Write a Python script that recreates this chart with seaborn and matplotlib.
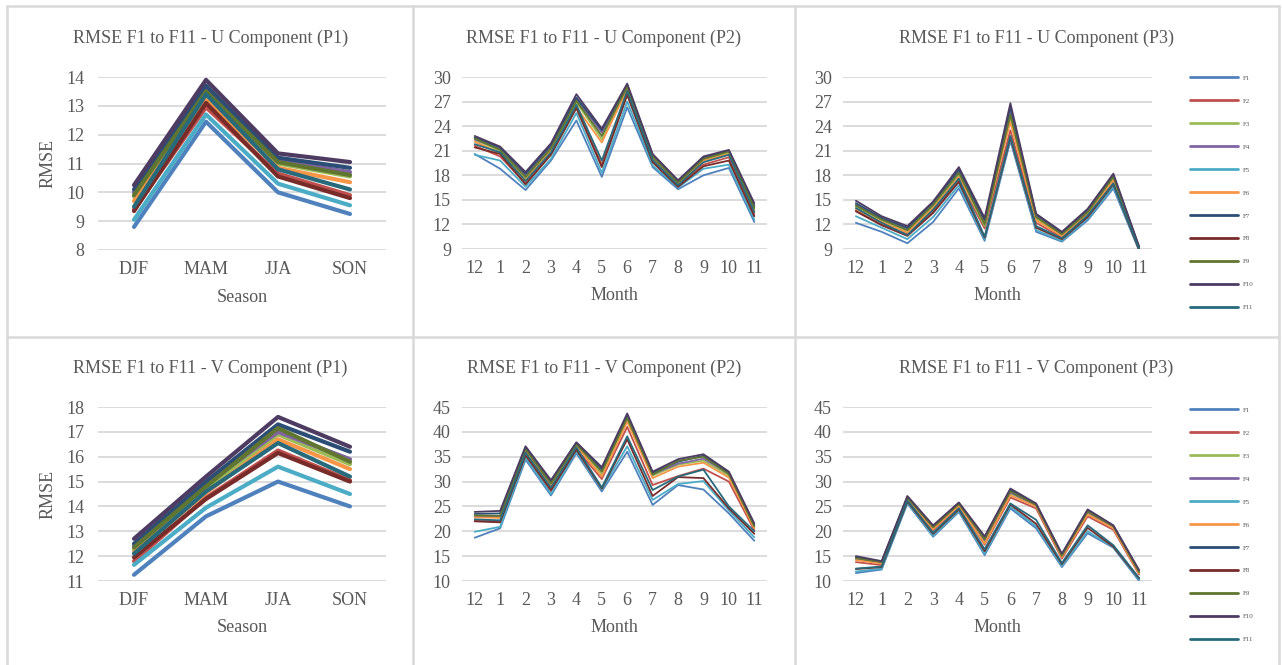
import numpy as np
import pandas as pd
import matplotlib
matplotlib.use("Agg")
import matplotlib.pyplot as plt
from matplotlib.lines import Line2D
import seaborn as sns

sns.set_style("white")
plt.rcParams['font.family'] = ['Liberation Serif', 'DejaVu Serif']

series = ["F1", "F2", "F3", "F4", "F5", "F6", "F7", "F8", "F9", "F10", "F11"]
colors = ["#4F81BD", "#C0504D", "#9BBB59", "#8064A2", "#4BACC6", "#F79646",
          "#2C4D75", "#772C2A", "#5F7530", "#4D3B62", "#276A7C"]
seasons = ["DJF", "MAM", "JJA", "SON"]
months = ["12", "1", "2", "3", "4", "5", "6", "7", "8", "9", "10", "11"]

# ---- U component, P1 (seasonal) ----
u_p1 = {
    "F1":  [8.80, 12.45, 10.00, 9.25],
    "F2":  [9.40, 12.95, 10.65, 9.90],
    "F3":  [9.85, 13.45, 11.00, 10.55],
    "F4":  [10.00, 13.60, 11.10, 10.70],
    "F5":  [9.05, 12.70, 10.30, 9.55],
    "F6":  [9.70, 13.20, 10.85, 10.35],
    "F7":  [10.10, 13.70, 11.20, 10.85],
    "F8":  [9.35, 13.10, 10.55, 9.80],
    "F9":  [9.90, 13.50, 11.05, 10.60],
    "F10": [10.25, 13.90, 11.35, 11.05],
    "F11": [9.50, 13.40, 10.80, 10.10],
}
# ---- U component, P2 (monthly) ----
u_p2 = {
    "F1":  [20.6, 18.8, 16.2, 19.8, 24.7, 17.8, 26.3, 19.0, 16.3, 18.0, 18.9, 12.3],
    "F2":  [21.6, 20.3, 17.0, 20.6, 26.4, 19.3, 28.0, 19.7, 16.7, 19.3, 20.2, 13.2],
    "F3":  [22.3, 21.0, 17.6, 21.2, 26.9, 22.4, 28.6, 20.2, 17.0, 19.9, 20.8, 13.8],
    "F4":  [22.4, 21.2, 18.0, 21.5, 27.3, 23.2, 28.9, 20.4, 17.2, 20.1, 21.0, 14.1],
    "F5":  [20.5, 19.8, 16.6, 20.0, 25.6, 18.3, 27.0, 19.2, 16.5, 18.8, 19.3, 12.6],
    "F6":  [22.1, 20.7, 17.4, 21.0, 26.3, 22.0, 28.5, 20.0, 16.9, 19.8, 20.6, 13.6],
    "F7":  [22.6, 21.4, 18.2, 21.7, 27.5, 23.5, 29.0, 20.5, 17.3, 20.2, 21.0, 14.3],
    "F8":  [21.4, 20.6, 16.9, 20.5, 26.2, 19.0, 27.8, 19.6, 16.6, 19.1, 19.8, 13.0],
    "F9":  [22.5, 21.1, 17.8, 21.3, 27.1, 22.8, 28.8, 20.3, 17.1, 20.0, 20.9, 14.0],
    "F10": [22.8, 21.5, 18.4, 21.9, 27.9, 23.7, 29.2, 20.6, 17.4, 20.3, 21.1, 14.6],
    "F11": [21.8, 20.8, 17.3, 20.8, 26.6, 19.8, 28.3, 19.9, 16.8, 19.6, 20.5, 13.5],
}
# ---- U component, P3 (monthly) ----
u_p3 = {
    "F1":  [12.2, 11.1, 9.7, 12.3, 16.4, 10.0, 22.2, 11.1, 9.9, 12.5, 16.4, 8.8],
    "F2":  [13.7, 12.0, 10.8, 13.6, 17.4, 11.5, 23.5, 12.2, 10.4, 13.0, 17.1, 9.0],
    "F3":  [14.2, 12.5, 11.2, 14.2, 18.0, 11.8, 25.0, 12.7, 10.7, 13.4, 17.6, 9.1],
    "F4":  [14.4, 12.7, 11.5, 14.5, 18.5, 12.3, 25.7, 13.0, 10.9, 13.6, 17.9, 9.2],
    "F5":  [13.0, 11.6, 10.2, 12.9, 16.8, 10.2, 22.4, 11.3, 10.0, 12.7, 16.6, 8.9],
    "F6":  [13.9, 12.3, 11.0, 14.0, 17.8, 12.2, 24.5, 12.5, 10.6, 13.3, 17.4, 9.0],
    "F7":  [14.6, 12.8, 11.6, 14.7, 18.7, 12.5, 26.3, 13.2, 11.0, 13.8, 18.0, 9.2],
    "F8":  [13.6, 11.9, 10.6, 13.4, 17.2, 10.4, 22.6, 11.6, 10.2, 12.9, 16.9, 8.9],
    "F9":  [14.3, 12.6, 11.3, 14.4, 18.3, 12.0, 25.4, 12.9, 10.8, 13.5, 17.8, 9.1],
    "F10": [14.9, 13.0, 11.8, 14.8, 19.0, 12.8, 26.8, 13.3, 11.1, 13.9, 18.2, 9.3],
    "F11": [14.0, 12.2, 10.7, 13.8, 17.6, 10.5, 22.8, 11.8, 10.3, 13.1, 17.0, 9.0],
}
# ---- V component, P1 (seasonal) ----
v_p1 = {
    "F1":  [11.25, 13.60, 15.00, 14.00],
    "F2":  [11.80, 14.35, 16.25, 15.05],
    "F3":  [12.25, 14.70, 16.90, 15.70],
    "F4":  [12.40, 14.90, 17.00, 15.90],
    "F5":  [11.65, 13.95, 15.60, 14.50],
    "F6":  [12.15, 14.55, 16.70, 15.50],
    "F7":  [12.50, 15.00, 17.30, 16.20],
    "F8":  [11.95, 14.30, 16.15, 15.00],
    "F9":  [12.35, 14.80, 17.15, 15.80],
    "F10": [12.70, 15.20, 17.60, 16.40],
    "F11": [12.10, 14.60, 16.55, 15.20],
}
# ---- V component, P2 (monthly) ----
v_p2 = {
    "F1":  [18.7, 20.6, 34.4, 27.2, 35.7, 28.0, 36.0, 25.3, 29.3, 28.4, 23.6, 18.1],
    "F2":  [22.2, 22.0, 35.0, 28.0, 36.6, 30.5, 41.0, 29.3, 31.1, 32.6, 30.0, 20.2],
    "F3":  [22.9, 22.9, 36.3, 29.3, 37.3, 31.5, 42.5, 31.2, 33.4, 34.2, 31.2, 20.8],
    "F4":  [23.1, 23.0, 36.6, 29.5, 37.6, 32.2, 43.0, 31.5, 33.6, 34.6, 31.6, 21.1],
    "F5":  [19.9, 20.9, 34.8, 27.5, 36.0, 28.4, 37.1, 26.3, 29.5, 30.1, 24.2, 18.8],
    "F6":  [22.8, 22.7, 36.0, 29.0, 37.2, 31.0, 42.0, 30.7, 33.0, 33.8, 30.8, 20.6],
    "F7":  [23.5, 23.6, 36.9, 30.0, 37.8, 32.6, 43.3, 31.8, 34.0, 35.2, 31.8, 21.3],
    "F8":  [22.0, 21.8, 35.3, 28.3, 36.4, 28.6, 38.5, 27.1, 30.9, 30.7, 24.6, 19.5],
    "F9":  [23.2, 23.1, 36.5, 29.6, 37.5, 32.0, 42.8, 31.4, 34.2, 35.0, 31.5, 21.0],
    "F10": [23.9, 24.1, 37.1, 30.3, 37.9, 32.9, 43.7, 32.0, 34.5, 35.5, 32.0, 21.6],
    "F11": [22.4, 22.2, 35.8, 28.8, 36.9, 28.8, 39.1, 28.3, 31.0, 32.4, 25.0, 20.0],
}
# ---- V component, P3 (monthly) ----
v_p3 = {
    "F1":  [11.6, 12.3, 25.6, 18.9, 23.9, 15.2, 24.6, 20.6, 12.8, 19.6, 16.7, 10.0],
    "F2":  [13.8, 13.2, 26.3, 20.2, 24.9, 17.3, 26.8, 24.6, 14.5, 23.0, 20.3, 11.3],
    "F3":  [14.4, 13.6, 26.6, 20.6, 25.3, 18.0, 27.6, 25.2, 15.0, 23.7, 20.8, 11.7],
    "F4":  [14.5, 13.7, 26.7, 20.7, 25.4, 18.2, 27.8, 25.2, 15.0, 23.8, 20.9, 11.8],
    "F5":  [11.9, 12.5, 25.8, 19.1, 24.1, 15.5, 25.0, 21.0, 13.0, 20.0, 16.8, 10.2],
    "F6":  [14.2, 13.5, 26.5, 20.4, 25.1, 17.5, 27.2, 25.0, 14.8, 23.4, 20.6, 11.5],
    "F7":  [14.8, 13.9, 26.9, 21.0, 25.7, 18.7, 28.3, 25.4, 15.3, 24.2, 21.1, 12.0],
    "F8":  [12.4, 12.8, 26.0, 19.5, 24.4, 16.0, 25.4, 21.5, 13.4, 20.7, 16.9, 10.5],
    "F9":  [14.6, 13.8, 26.8, 20.8, 25.5, 18.4, 28.0, 25.3, 15.1, 24.0, 21.0, 11.8],
    "F10": [15.0, 14.0, 27.1, 21.2, 25.8, 19.0, 28.6, 25.6, 15.5, 24.4, 21.2, 12.2],
    "F11": [12.5, 12.9, 26.2, 19.7, 24.6, 16.4, 25.6, 22.3, 13.6, 21.2, 17.2, 10.6],
}

TXT = "#595959"
GRID = "#D9D9D9"
W, H = 1282, 665
fig = plt.figure(figsize=(W / 100, H / 100), dpi=100)
fig.patch.set_facecolor("white")


def add_ax(x0, x1, yt, yb):
    return fig.add_axes([x0 / W, 1 - yb / H, (x1 - x0) / W, (yb - yt) / H])


def long_df(data, cats):
    rows = []
    for s in series:
        for c, v in zip(cats, data[s]):
            rows.append({"cat": c, "series": s, "value": v})
    df = pd.DataFrame(rows)
    df["pos"] = df["cat"].map({c: i for i, c in enumerate(cats)})
    return df


panels = [
    (u_p1, seasons, (98, 386, 77, 250), (8, 14), 1, "Season", "RMSE", 3.0,
     "RMSE F1 to F11 - U Component (P1)", (8, 413), 38),
    (u_p2, months, (462, 767, 77, 249), (9, 30), 3, "Month", None, 1.3,
     "RMSE F1 to F11 - U Component (P2)", (413, 795), 38),
    (u_p3, months, (843, 1152, 77, 249), (9, 30), 3, "Month", None, 1.3,
     "RMSE F1 to F11 - U Component (P3)", (795, 1278), 38),
    (v_p1, seasons, (98, 386, 407, 581), (11, 18), 1, "Season", "RMSE", 3.0,
     "RMSE F1 to F11 - V Component (P1)", (8, 413), 368),
    (v_p2, months, (462, 767, 407, 581), (10, 45), 5, "Month", None, 1.3,
     "RMSE F1 to F11 - V Component (P2)", (413, 795), 368),
    (v_p3, months, (843, 1152, 407, 581), (10, 45), 5, "Month", None, 1.3,
     "RMSE F1 to F11 - V Component (P3)", (795, 1278), 368),
]

FS = 13
for data, cats, box, ylim, ystep, xl, yl, lw, title, tb, ty in panels:
    x0, x1, yt, yb = box
    ax = add_ax(x0, x1, yt, yb)
    df = long_df(data, cats)
    sns.lineplot(data=df, x="pos", y="value", hue="series", hue_order=series,
                 palette=colors, estimator=None, sort=False, linewidth=lw,
                 legend=False, ax=ax, zorder=3)
    ax.set_xlim(-0.5, len(cats) - 0.5)
    ax.set_ylim(*ylim)
    ax.set_xticks(range(len(cats)))
    ax.set_xticklabels(cats)
    ax.set_yticks(np.arange(ylim[0], ylim[1] + 0.01, ystep))
    ax.grid(axis="y", color=GRID, linewidth=1.3)
    ax.grid(axis="x", visible=False)
    for sp in ax.spines.values():
        sp.set_visible(False)
    ax.set_facecolor("none")
    ax.tick_params(axis="both", length=0, colors=TXT, labelsize=FS)
    ax.tick_params(axis="y", pad=10 if yl else 8)
    ax.tick_params(axis="x", pad=8)
    ax.set_xlabel(xl, color=TXT, fontsize=FS)
    ax.xaxis.set_label_coords(0.5, -(47 / (yb - yt)))
    ax.xaxis.label.set_va("center")
    if yl:
        ax.set_ylabel(yl, color=TXT, fontsize=FS)
        ax.yaxis.set_label_coords(-(50 / (x1 - x0)), 0.5)
        ax.yaxis.label.set_va("center")
    else:
        ax.set_ylabel("")
    fig.text((tb[0] + tb[1]) / 2 / W, 1 - ty / H, title, ha="center",
             va="center", color=TXT, fontsize=13)


def fig_line(xs, ys):
    fig.add_artist(Line2D([x / W for x in xs], [1 - y / H for y in ys],
                          color=GRID, linewidth=1.8, transform=fig.transFigure))


for xv in (7, 413, 795, 1279):
    fig_line([xv, xv], [6, 665])
fig_line([7, 1279], [6, 6])
fig_line([7, 1279], [337, 337])

handles = [Line2D([], [], color=c, linewidth=2) for c in colors]
for top in (75, 407):
    fig.legend(handles, series, loc="upper left",
               bbox_to_anchor=(1190 / W, 1 - top / H), frameon=False,
               fontsize=5, handlelength=6.9, handletextpad=0.7,
               labelspacing=2.46, borderpad=0, borderaxespad=0,
               labelcolor=TXT)

fig.savefig("out.png", dpi=100, facecolor="white")
